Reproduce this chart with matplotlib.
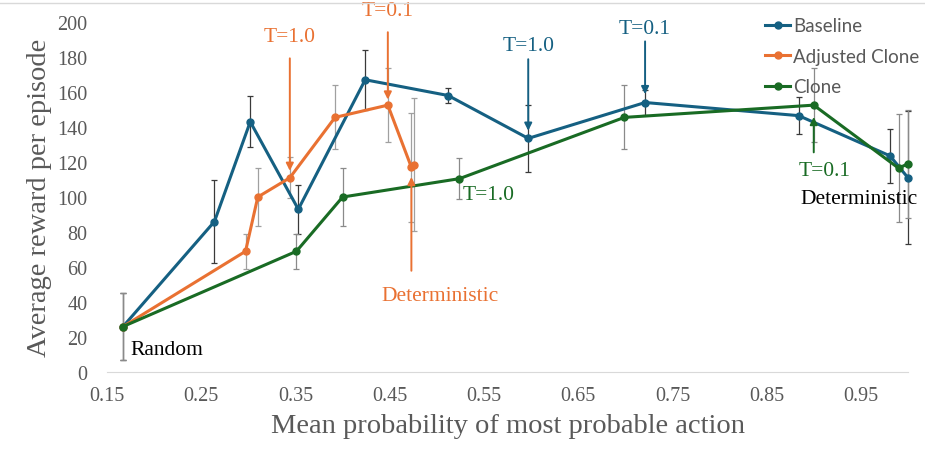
import matplotlib
matplotlib.use("Agg")
import matplotlib.pyplot as plt
from matplotlib.lines import Line2D

# mean probability of most probable action vs average reward (+/- error)
baseline_x = [0.167, 0.264, 0.302, 0.353, 0.424, 0.512, 0.597, 0.721, 0.884, 0.981, 1.0]
baseline_y = [26, 86, 143, 93, 167, 158, 133.5, 154, 146.5, 123.5, 111]
baseline_err = [19, 23.5, 14.5, 14, 17, 4.3, 19, 7, 10.5, 15.5, 38]

adjusted_x = [0.167, 0.297, 0.310, 0.344, 0.392, 0.448, 0.473, 0.476]
adjusted_y = [26, 69, 100, 111, 145.5, 152.5, 117, 118.5]
adjusted_err = [19, 10, 16.6, 11.6, 18.3, 21, 31, 38]

clone_x = [0.167, 0.351, 0.400, 0.524, 0.699, 0.900, 0.990, 1.0]
clone_y = [26, 69, 100, 110.5, 145.5, 152.5, 116.5, 119]
clone_err = [19, 10, 16.6, 11.6, 18.3, 21, 31, 31]

xticks = [0.15, 0.25, 0.35, 0.45, 0.55, 0.65, 0.75, 0.85, 0.95]
yticks = [0, 20, 40, 60, 80, 100, 120, 140, 160, 180, 200]

BLUE = "#156082"
ORANGE = "#E97132"
GREEN = "#196B24"
GREY = "#595959"
SERIF = "Liberation Serif"

fig = plt.figure(figsize=(9.25, 4.6), dpi=100)
ax = fig.add_axes([0.1157, 0.189, 0.8659, 0.761])

series = [
    (baseline_x, baseline_y, baseline_err, BLUE, "#3a3a3a", "Baseline"),
    (adjusted_x, adjusted_y, adjusted_err, ORANGE, "#a0a0a0", "Adjusted Clone"),
    (clone_x, clone_y, clone_err, GREEN, "#8a8a8a", "Clone"),
]
for xs, ys, es, col, ecol, lab in series:
    eb = ax.errorbar(xs, ys, yerr=es, fmt="none", ecolor=ecol, elinewidth=0.9,
                     capsize=2.5, capthick=0.9, zorder=2)
    for art in eb.lines[1] + eb.lines[2]:
        art.set_clip_on(False)
for xs, ys, es, col, ecol, lab in series:
    ax.plot(xs, ys, color=col, lw=2.2, marker="o", ms=5, label=lab, zorder=3,
            clip_on=False)

ax.set_xlim(0.15, 1.0)
ax.set_ylim(0, 200)
ax.set_xticks(xticks)
ax.set_xticklabels([f"{t:.2f}" for t in xticks])
ax.set_yticks(yticks)
for s in ["top", "right", "left"]:
    ax.spines[s].set_visible(False)
ax.spines["bottom"].set_color("#d9d9d9")
ax.tick_params(length=0, labelsize=14.5, labelcolor=GREY)
ax.tick_params(axis="y", pad=14)
ax.tick_params(axis="x", pad=10)
for lbl in ax.get_xticklabels() + ax.get_yticklabels():
    lbl.set_family(SERIF)

ax.set_xlabel("Mean probability of most probable action", family=SERIF,
              fontsize=20.5, color=GREY, labelpad=6)
ax.set_ylabel("Average reward per episode", family=SERIF, fontsize=20.5,
              color=GREY, labelpad=4)


def arrow_note(xs, ys, i, text, col, tail, txt, gap, dx=0):
    # arrow from an offset down/up to the point, text beyond the tail
    ax.annotate("", xy=(xs[i], ys[i]), xytext=(0, tail), textcoords="offset points",
                arrowprops=dict(arrowstyle="-|>", color=col, lw=1.4,
                                mutation_scale=11, shrinkA=0, shrinkB=gap),
                zorder=4)
    ax.annotate(text, xy=(xs[i], ys[i]), xytext=(dx, txt), textcoords="offset points",
                ha="center", va="center", color=col, family=SERIF, fontsize=15.5)


arrow_note(adjusted_x, adjusted_y, 3, "T=1.0", ORANGE, 86, 101.5, 5)
arrow_note(adjusted_x, adjusted_y, 5, "T=0.1", ORANGE, 52.5, 68.5, 4)
arrow_note(adjusted_x, adjusted_y, 6, "Deterministic", ORANGE, -74.5, -92.5, 7, dx=21)
arrow_note(baseline_x, baseline_y, 6, "T=1.0", BLUE, 57, 66.7, 5.5)
arrow_note(baseline_x, baseline_y, 7, "T=0.1", BLUE, 44, 53.6, 6)
arrow_note(clone_x, clone_y, 5, "T=0.1", GREEN, -34, -47.3, 8.5, dx=8)

ax.annotate("T=1.0", xy=(clone_x[3], clone_y[3]), xytext=(2, -11.3),
            textcoords="offset points", ha="left", va="center", color=GREEN,
            family=SERIF, fontsize=15.5)
ax.annotate("Deterministic", xy=(baseline_x[-1], baseline_y[-1]), xytext=(-35, -14.6),
            textcoords="offset points", ha="center", va="center", color="black",
            family=SERIF, fontsize=15.5)
ax.annotate("Random", xy=(baseline_x[0], baseline_y[0]), xytext=(5, -16.6),
            textcoords="offset points", ha="left", va="center", color="black",
            family=SERIF, fontsize=15.5)

leg = ax.legend(loc="upper left", bbox_to_anchor=(0.811, 0.993), bbox_transform=fig.transFigure,
                frameon=False, handlelength=1.33, handletextpad=0.15,
                labelspacing=0.72, borderpad=0.3,
                prop={"family": "Lato", "size": 13.5})
for t in leg.get_texts():
    t.set_color(GREY)

fig.add_artist(Line2D([0, 1], [1 - 3.5 / 460] * 2, transform=fig.transFigure,
                      color="#d9d9d9", lw=1))

fig.savefig("out.png", dpi=100)
